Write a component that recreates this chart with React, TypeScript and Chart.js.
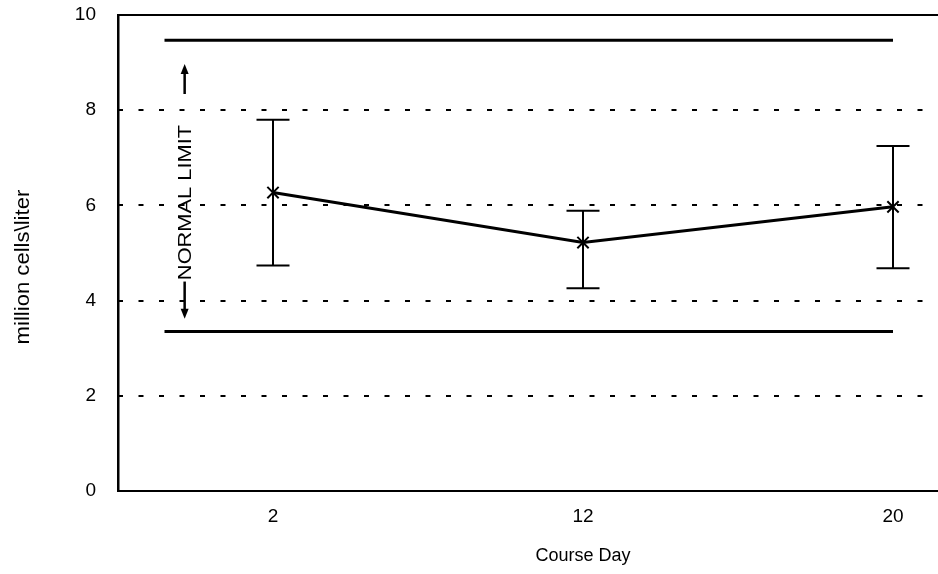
import React, { useEffect, useRef } from "react";
import { Chart, registerables } from "chart.js";

Chart.register(...registerables);

// Course days on the x axis and the red-cell counts (million cells per liter)
const courseDays = ["2", "12", "20"];
const meanCells = [6.27, 5.22, 5.97];
const lowCells = [4.74, 4.26, 4.68];
const highCells = [7.8, 5.89, 7.25];

// Normal range shown as two horizontal limit lines
const normalUpper = 9.47;
const normalLower = 3.35;
const normalLabel = "NORMAL LIMIT";
const yTitle = "million cells\\liter";
const xTitle = "Course Day";

// Y axis range and tick step
const yMin = 0;
const yMax = 10;
const yStep = 2;

const FONT = "'Liberation Sans', Arial, Helvetica, sans-serif";
const INK = "#000";

// Limit lines run from just left of the first day to the last day (x in day-index units)
const LIMIT_X_START = -0.35;
const LIMIT_X_END = courseDays.length - 1;

// Placement of the "NORMAL LIMIT" marker, in axis units
const LABEL_X = -0.285;
const LABEL_TOP = 7.69;
const LABEL_BOTTOM = 4.43;
const UP_ARROW = [8.34, 8.97];
const DOWN_ARROW = [4.4, 3.62];

// Y-axis title extent, in axis units
const Y_TITLE_TOP = 6.33;
const Y_TITLE_BOTTOM = 3.08;

function drawArrow(ctx: CanvasRenderingContext2D, x: number, y0: number, y1: number) {
  const dir = y1 < y0 ? -1 : 1;
  const head = 10;
  ctx.beginPath();
  ctx.moveTo(x, y0);
  ctx.lineTo(x, y1 - dir * head * 0.6);
  ctx.lineWidth = 2.5;
  ctx.strokeStyle = INK;
  ctx.stroke();
  ctx.beginPath();
  ctx.moveTo(x, y1);
  ctx.lineTo(x - 4, y1 - dir * head);
  ctx.lineTo(x + 4, y1 - dir * head);
  ctx.closePath();
  ctx.fillStyle = INK;
  ctx.fill();
}

// Vertical text reading bottom-to-top, fitted between two pixel rows
function drawVerticalText(
  ctx: CanvasRenderingContext2D,
  text: string,
  baselineX: number,
  yTop: number,
  yBot: number,
  size: number
) {
  ctx.font = `${size}px ${FONT}`;
  const w = ctx.measureText(text).width;
  const stretch = (yBot - yTop) / w;
  ctx.save();
  ctx.translate(baselineX, yBot);
  ctx.rotate(-Math.PI / 2);
  ctx.scale(stretch, 1);
  ctx.fillStyle = INK;
  ctx.textAlign = "left";
  ctx.textBaseline = "alphabetic";
  ctx.fillText(text, 0, 0);
  ctx.restore();
}

const decorPlugin = {
  id: "cellDecor",
  beforeDatasetsDraw(chart: any) {
    const { ctx, chartArea } = chart;
    const ys = chart.scales.y;
    ctx.save();
    // dashed gridlines at the inner y ticks
    ctx.strokeStyle = INK;
    ctx.lineWidth = 2;
    ctx.setLineDash([5, 15.5]);
    ys.ticks.forEach((t: any) => {
      if (t.value === yMin || t.value === yMax) return;
      const py = Math.round(ys.getPixelForValue(t.value));
      ctx.beginPath();
      ctx.moveTo(chartArea.left, py);
      ctx.lineTo(chartArea.right, py);
      ctx.stroke();
    });
    ctx.setLineDash([]);
    // top frame edge
    ctx.lineWidth = 2;
    ctx.beginPath();
    ctx.moveTo(chartArea.left, chartArea.top);
    ctx.lineTo(chartArea.right, chartArea.top);
    ctx.stroke();

    // y-axis title
    drawVerticalText(
      ctx,
      yTitle,
      29,
      ys.getPixelForValue(Y_TITLE_TOP),
      ys.getPixelForValue(Y_TITLE_BOTTOM),
      20
    );
    ctx.restore();
  },
  afterDatasetsDraw(chart: any) {
    const { ctx } = chart;
    const xs = chart.scales.x;
    const ys = chart.scales.y;
    ctx.save();
    // error bars
    ctx.strokeStyle = INK;
    courseDays.forEach((_, i) => {
      const px = xs.getPixelForValue(i);
      const top = ys.getPixelForValue(highCells[i]);
      const bot = ys.getPixelForValue(lowCells[i]);
      const cap = 16.5;
      ctx.lineWidth = 2;
      ctx.beginPath();
      ctx.moveTo(px, top);
      ctx.lineTo(px, bot);
      ctx.moveTo(px - cap, top);
      ctx.lineTo(px + cap, top);
      ctx.moveTo(px - cap, bot);
      ctx.lineTo(px + cap, bot);
      ctx.stroke();
    });

    // "NORMAL LIMIT" label with arrows
    const lx = xs.getPixelForValue(LABEL_X);
    drawVerticalText(
      ctx,
      normalLabel,
      lx + 6.5,
      ys.getPixelForValue(LABEL_TOP),
      ys.getPixelForValue(LABEL_BOTTOM),
      18
    );
    drawArrow(ctx, lx, ys.getPixelForValue(UP_ARROW[0]), ys.getPixelForValue(UP_ARROW[1]));
    drawArrow(ctx, lx, ys.getPixelForValue(DOWN_ARROW[0]), ys.getPixelForValue(DOWN_ARROW[1]));
    ctx.restore();
  },
};

export default function App() {
  const canvasRef = useRef<HTMLCanvasElement | null>(null);

  useEffect(() => {
    const canvas = canvasRef.current;
    if (!canvas) return;

    const limitLine = (value: number) => ({
      data: [
        { x: LIMIT_X_START, y: value },
        { x: LIMIT_X_END, y: value },
      ],
      borderColor: INK,
      borderWidth: 3,
      pointRadius: 0,
      fill: false,
      tension: 0,
    });

    const chart = new Chart(canvas, {
      type: "line",
      data: {
        datasets: [
          limitLine(normalUpper),
          limitLine(normalLower),
          {
            data: courseDays.map((_, i) => ({ x: i, y: meanCells[i] })),
            borderColor: INK,
            borderWidth: 3,
            pointStyle: "crossRot",
            pointRadius: 8,
            pointBorderWidth: 2,
            pointBorderColor: INK,
            pointBackgroundColor: INK,
            fill: false,
            tension: 0,
          },
        ],
      },
      options: {
        animation: false,
        responsive: false,
        events: [],
        layout: { padding: { top: 15, right: 12, left: 0, bottom: 0 } },
        plugins: {
          legend: { display: false },
          tooltip: { enabled: false },
        },
        scales: {
          x: {
            type: "linear",
            min: -0.5,
            max: courseDays.length - 0.5,
            afterBuildTicks: (scale: any) => {
              scale.ticks = courseDays.map((_, i) => ({ value: i }));
            },
            afterFit: (scale: any) => {
              scale.height = 83;
              scale.paddingLeft = 0;
              scale.paddingRight = 0;
            },
            grid: { display: false, drawTicks: false },
            border: { display: true, color: INK, width: 2 },
            ticks: {
              color: INK,
              padding: 14,
              font: { family: FONT, size: 19 },
              callback: (v: any) => courseDays[Math.round(v)] ?? "",
            },
            title: {
              display: true,
              text: xTitle,
              color: INK,
              font: { family: FONT, size: 18 },
              padding: { top: 0, bottom: 7 },
            },
          },
          y: {
            min: yMin,
            max: yMax,
            afterFit: (scale: any) => {
              scale.width = 118;
              scale.paddingTop = 0;
              scale.paddingBottom = 0;
            },
            grid: { display: false, drawTicks: false },
            border: { display: true, color: INK, width: 2.5 },
            ticks: {
              stepSize: yStep,
              color: INK,
              padding: 22,
              font: { family: FONT, size: 19 },
            },
          },
        },
      },
      plugins: [decorPlugin],
    });

    return () => chart.destroy();
  }, []);

  return (
    <div
      style={{
        position: "fixed",
        left: 0,
        top: 0,
        width: 938,
        height: 574,
        overflow: "hidden",
        background: "#fff",
      }}
    >
      <canvas ref={canvasRef} width={1060} height={574} style={{ display: "block" }} />
    </div>
  );
}
